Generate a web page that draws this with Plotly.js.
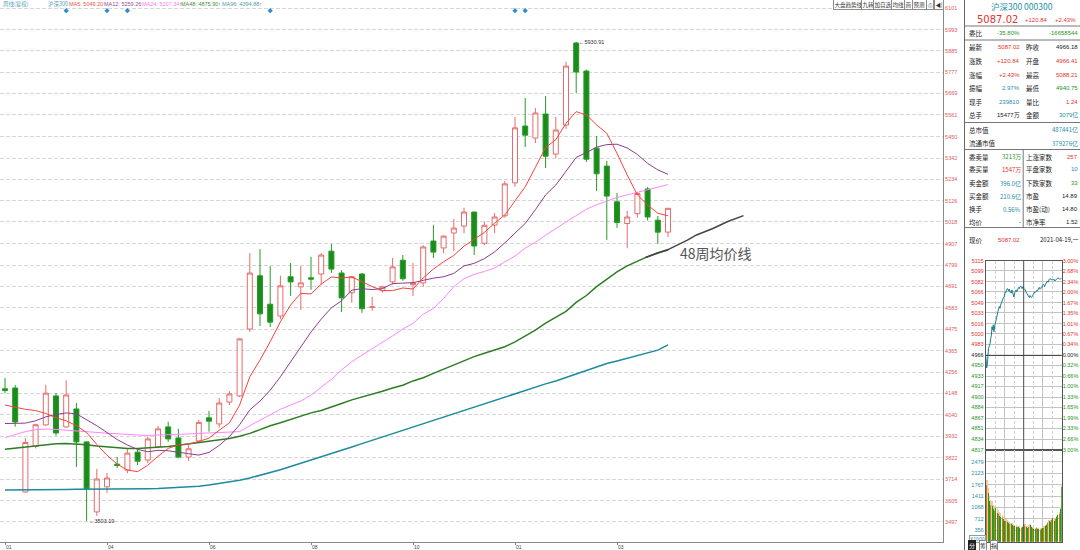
<!DOCTYPE html>
<html><head><meta charset="utf-8">
<script src="https://cdn.plot.ly/plotly-3.0.1.min.js"></script>
<style>html,body{margin:0;padding:0;background:#fff;}#chart{width:1080px;height:550px;}</style>
</head><body><div id="chart"></div>
<script>
// ---------------- weekly K-line data (沪深300, 周线) ----------------
const weeks = ['2020-01-17','2020-01-23','2020-02-07','2020-02-14','2020-02-21','2020-02-28','2020-03-06','2020-03-13','2020-03-20','2020-03-27',
'2020-04-03','2020-04-10','2020-04-17','2020-04-24','2020-04-30','2020-05-08','2020-05-15','2020-05-22','2020-05-29','2020-06-05',
'2020-06-12','2020-06-19','2020-06-24','2020-07-03','2020-07-10','2020-07-17','2020-07-24','2020-07-31','2020-08-07','2020-08-14',
'2020-08-21','2020-08-28','2020-09-04','2020-09-11','2020-09-18','2020-09-25','2020-09-30','2020-10-09','2020-10-16','2020-10-23',
'2020-10-30','2020-11-06','2020-11-13','2020-11-20','2020-11-27','2020-12-04','2020-12-11','2020-12-18','2020-12-25','2020-12-31',
'2021-01-08','2021-01-15','2021-01-22','2021-01-29','2021-02-05','2021-02-10','2021-02-19','2021-02-26','2021-03-05','2021-03-12',
'2021-03-19','2021-03-26','2021-04-02','2021-04-09','2021-04-16','2021-04-19'];
const openP  = [4172,4176,3649,3880,3989,4136,3979,4070,3903,3548, 3675,3790,3760,3851,3811,3878,3979,3923,3826,3908,
4025,3994,4105,4136,4475,4745,4601,4541,4740,4689, 4735,4754,4870,4759,4659,4754,4585,4670,4714,4824,
4700,4709,4921,4886,4962,4997,5068,4910,5002,5049, 5216,5504,5443,5565,5362,5509,5925,5783,5392,5301,
5120,5010,5060,5185,5027,4966.41];
const highP  = [4227,4192,3923,3995,4192,4151,4215,4100,3905,3766, 3745,3826,3866,3866,3928,3984,4005,3969,3887,4015,
4060,4125,4160,4430,4860,4880,4794,4745,4810,4794, 4841,4860,4906,4774,4745,4759,4638,4694,4835,4850,
4810,4900,5003,4950,5033,5090,5070,5020,5063,5225, 5550,5646,5595,5656,5550,5830,5930.91,5790,5453,5327,
5165,5074,5170,5195,5048,5088.21];
const lowP   = [4150,3980,3645,3870,3985,3935,3974,3776,3503.19,3528, 3645,3771,3744,3785,3795,3870,3903,3820,3806,3900,
3955,3975,4090,4130,4460,4490,4485,4525,4643,4572, 4674,4700,4760,4562,4608,4557,4567,4660,4700,4720,
4643,4690,4835,4860,4870,4960,4850,4900,4962,5040, 5196,5398,5418,5291,5342,5490,5672,5322,5175,4927,
4988,4885,5040,5025,4907,4940.75];
const closeP = [4163,4004,3900,3990,4150,3948,4141,3903,3664,3715, 3720,3783,3846,3805,3918,3969,3918,3826,3868,4002,
4008,4100,4146,4425,4759,4552,4510,4694,4714,4709, 4728,4850,4779,4633,4740,4578,4587,4689,4790,4730,
4709,4891,4865,4946,4987,5068,4896,5001,5043,5211, 5495,5458,5570,5351,5484,5808,5778,5336,5262,5149,
5015,5043,5162,5043,4966.18,5087.02];

// moving averages
const ma5  = [4090,4078,4068,4062,4047,4025,4010,3985,3950,3890, 3835,3790,3760,3752,3785,3830,3870,3888,3892,3905,
3922,3962,3999,4090,4233,4318,4411,4512,4597,4656, 4653,4703,4739,4734,4739,4715,4690,4670,4670,4683,
4678,4734,4779,4816,4848,4895,4930,4965,5012,5053, 5125,5196,5295,5395,5435,5518,5577,5560,5510,5467,
5366,5256,5155,5104,5062,5049.20];
const ma12 = [3996,3997,3998,4010,4030,4042,4050,4045,4015,3985, 3950,3915,3887,3865,3853,3860,3858,3852,3843,3836,
3850,3885,3930,3990,4065,4110,4165,4233,4310,4385, 4460,4525,4583,4618,4672,4680,4675,4680,4705,4708,
4710,4722,4733,4740,4757,4795,4808,4832,4866,4912, 4960,5010,5080,5155,5205,5275,5345,5370,5397,5410,
5412,5393,5360,5315,5282,5259.26];
const ma24 = [3925,3940,3955,3965,3968,3966,3963,3958,3954,3951, 3947,3943,3940,3938,3936,3937,3938,3940,3943,3946,
3949,3952,3953,3955,3985,4014,4040,4068,4090,4110, 4140,4180,4220,4268,4310,4343,4375,4405,4440,4475,
4504,4550,4580,4630,4690,4730,4752,4767,4785,4815, 4845,4885,4915,4950,4985,5018,5050,5082,5105,5125,
5142,5155,5168,5182,5196,5207.34];
const ma48 = [3866,3872,3878,3884,3888,3893,3895,3893,3888,3882, 3877,3872,3870,3870,3873,3876,3880,3886,3893,3898,
3905,3912,3920,3932,3946,3965,3985,4000,4018,4033, 4050,4062,4078,4098,4116,4130,4145,4160,4176,4190,
4212,4228,4250,4272,4290,4315,4335,4352,4370,4385, 4410,4440,4470,4505,4535,4565,4610,4645,4690,4728,
4765,4795,4820,4842,4862,4875.90];
const ma96 = [3659,3659,3660,3660,3661,3662,3662,3663,3663,3664, 3664,3664,3665,3665,3666,3667,3669,3671,3674,3678,
3684,3691,3699,3708,3720,3733,3747,3762,3778,3794, 3810,3826,3843,3860,3877,3894,3911,3928,3946,3963,
3979,3996,4012,4028,4044,4061,4078,4095,4112,4130, 4146,4163,4180,4197,4212,4230,4248,4266,4283,4300,
4313,4326,4340,4354,4368,4394.88];

// hand-drawn extension of the 48-week line
const trendX = [62.8,64,65,66.9,67.8,69.4,70.8,72.4];
const trendY = [4838,4862,4878,4926,4952,4985,5019,5050];

// x tick labels (every 10 weeks)
const tickIdx = [0,10,20,30,40,50,60];
const tickTxt = ['01','04','06','08','10','01','03'];
// right price axis labels
const priceTicks = [6101,5993,5885,5777,5669,5561,5450,5342,5234,5126,5018,4907,4799,4691,4583,4475,4365,4256,4148,4040,3932,3822,3714,3605,3497];
// info-mine event markers (week indices)
const eventIdx = [6,10,12,26,50,51];

// ---------------- intraday (2021-04-19) ----------------
const intraMin = [0,2,3,5,7,9,12,14,16,18,20,22,24,26,28,31,33,35,37,39,41,43,45,47,49,52,54,56,58,60,
62,64,66,68,71,73,75,77,79,81,83,85,87,89,92,94,96,98,100,102,104,106,108,111,113,115,117,119,121,123,
125,127,129,132,134,136,138,140,142,144,146,148,151,153,155,157,159,161,163,165,167,169,172,174,176,178,180,182,184,186,
188,191,193,195,197,199,201,203,205,207,209,212,214,216,218,220,222,224,226,228,231,233,235,237,239,240];
const intraPx = [4966.5,4956,4946,4951,4966,4977,4982,4985,4993,4998,5011,5006,5014,5003,5011,5019,5024,5029,5032,5039,5040,5043,5040,5045,5048,5053,5056,5057,5058,5062,
5066,5065,5069,5071,5070,5067,5070,5065,5066,5064,5069,5066,5062,5058,5065,5067,5069,5066,5070,5071,5073,5071,5074,5075,5073,5071,5074,5074,5071,5070,
5069,5066,5064,5062,5059,5058,5057,5060,5058,5057,5058,5060,5062,5063,5066,5065,5067,5068,5067,5069,5071,5073,5070,5071,5074,5073,5076,5078,5077,5074,
5077,5079,5081,5083,5081,5085,5086,5087,5086,5085,5086,5084,5085,5086,5083,5084,5085,5086,5087,5088,5087,5086,5087,5086,5087,5087.02];
const volMin = [0,4,8,12,16,20,24,28,32,36,40,44,48,52,56,60,64,68,72,76,80,84,88,92,96,100,104,108,112,116,
120,124,128,132,136,140,144,148,152,156,160,164,168,172,176,180,184,188,192,196,200,204,208,212,216,220,224,228,232,236,240];
const volK = [2300,1750,1500,1250,1150,1100,1000,950,1050,900,850,800,760,720,700,650,640,600,580,560,540,520,500,480,470,460,450,440,430,460,
540,500,460,440,470,520,450,420,400,390,410,380,400,370,390,410,440,480,520,580,640,620,670,720,640,700,760,820,870,1020,1700];
const volTan = [2400,1900,1650,1400,1300,1250,1150,1100,1150,1050,980,930,880,820,780,730,700,660,640,620,590,570,550,530,520,500,490,480,470,500,
580,550,500,480,510,560,490,460,440,430,450,420,440,420,430,450,480,520,560,620,680,670,720,770,700,750,810,870,920,1070,1800];
const intraTicks = [5115,5099,5082,5066,5049,5033,5016,5000,4983,4966,4950,4933,4917,4900,4884,4867,4851,4834,4817];
const intraPct = ['3.00%','2.68%','2.34%','2.00%','1.67%','1.35%','1.01%','0.67%','0.34%','0.00%','0.32%','0.66%','1.00%','1.33%','1.65%','1.99%','2.33%','2.66%','3.00%'];
const volTicks = [356,712,1068,1411,1767,2123,2479];

// ---------------- quote panel text ----------------
const RED='#e2332e', GRN='#1f951f', TEAL='#1e8fa3', BLK='#222';
const quoteRows = [
  ['最新','5087.02',RED,'昨收','4966.18',BLK],
  ['涨跌','+120.84',RED,'开盘','4966.41',RED],
  ['涨幅','+2.43%',RED,'最高','5088.21',RED],
  ['振幅','2.97%',TEAL,'最低','4940.75',GRN],
  ['现手','239810',TEAL,'量比','1.24',RED],
  ['总手','15477万',BLK,'金额','3079亿',TEAL]
];
const capRows = [['总市值','487441亿'],['流通市值','379276亿']];
const bookRows = [
  ['委卖量','3213万',GRN,'上涨家数','257',RED],
  ['委买量','1547万',RED,'平盘家数','10',TEAL],
  ['卖金额','396.0亿',TEAL,'下跌家数','33',GRN],
  ['买金额','210.6亿',TEAL,'市盈','14.89',BLK],
  ['换手','0.56%',TEAL,'市盈(动)','14.80',BLK],
  ['均价','-',BLK,'市净率','1.52',BLK]
];

// ---------------- build ----------------
const W=1080, H=550;
const px = x => x/W, py = y => 1 - y/H;
const FONT = '"Liberation Sans","Noto Sans CJK SC",sans-serif';
const CJK = '"Noto Sans CJK SC","Liberation Sans",sans-serif';
const idx = weeks.map((d,i)=>i);

function note(text,x,y,o){ o=o||{};
  const a = {text:text,x:px(x),y:py(y),xref:'paper',yref:'paper',showarrow:false,
    xanchor:o.xa||'left',yanchor:'middle',font:{size:o.size||6.5,color:o.color||BLK,family:o.family||CJK}};
  return Object.assign(a,o.extra||{});
}

const traces = [
  {type:'candlestick',x:idx,open:openP,high:highP,low:lowP,close:closeP,xaxis:'x',yaxis:'y',
   increasing:{line:{color:'#e76b6b',width:1},fillcolor:'#ffffff'},
   decreasing:{line:{color:'#259a25',width:1},fillcolor:'#1b8c1b'},
   whiskerwidth:0,hoverinfo:'skip'},
  {type:'scatter',mode:'lines',x:idx,y:ma96,line:{color:'#1c8b9c',width:1.5},hoverinfo:'skip'},
  {type:'scatter',mode:'lines',x:idx,y:ma48,line:{color:'#2c7d24',width:1.5},hoverinfo:'skip'},
  {type:'scatter',mode:'lines',x:trendX,y:trendY,line:{color:'#444444',width:1.5},hoverinfo:'skip'},
  {type:'scatter',mode:'lines',x:idx,y:ma24,line:{color:'#ff86ff',width:1},hoverinfo:'skip'},
  {type:'scatter',mode:'lines',x:idx,y:ma12,line:{color:'#8e3b8e',width:1},hoverinfo:'skip'},
  {type:'scatter',mode:'lines',x:idx,y:ma5,line:{color:'#f6423c',width:1},hoverinfo:'skip'},
  {type:'scatter',mode:'markers',x:eventIdx,y:eventIdx.map(()=>0.9803),xaxis:'x',yaxis:'y5',
   marker:{symbol:'diamond',size:4,color:'#2a8bd6'},hoverinfo:'skip'},
  // intraday
  {type:'scatter',mode:'lines',x:intraMin,y:intraPx,xaxis:'x2',yaxis:'y2',line:{color:'#1a7d8d',width:1},hoverinfo:'skip'},
  {type:'scatter',mode:'lines',x:intraMin,y:intraPx,xaxis:'x2',yaxis:'y3',line:{color:'rgba(0,0,0,0)',width:0},hoverinfo:'skip'},
  {type:'bar',x:volMin,y:volTan,xaxis:'x3',yaxis:'y4',width:3.6,
   marker:{color:'#ecc9a0',line:{width:0}},hoverinfo:'skip'},
  {type:'bar',x:volMin,y:volK,xaxis:'x3',yaxis:'y4',width:3.0,
   marker:{color:volK.map((v,i)=> i%3===1 ? '#cf7a14' : '#2c9a22'),line:{width:0}},hoverinfo:'skip'}
];

const tickColor = i => i<9 ? RED : (i===9 ? BLK : GRN);
const layout = {
  width:W,height:H,margin:{l:0,r:0,t:0,b:0},paper_bgcolor:'#fff',plot_bgcolor:'#fff',
  showlegend:false,hovermode:false,font:{family:FONT,size:6,color:BLK},barmode:'overlay',
  xaxis:{domain:[0,943/W],range:[-0.49,91.96],tickmode:'array',tickvals:tickIdx,ticktext:tickTxt,
    ticks:'outside',ticklen:2,tickcolor:'#888',ticklabelposition:'outside right',ticklabelstandoff:0,
    tickfont:{size:5,color:'#444'},showline:true,linecolor:'#8a8a8a',linewidth:1,
    showgrid:false,zeroline:false,rangeslider:{visible:false},fixedrange:true,automargin:false},
  yaxis:{domain:[1-542/H,1],range:[3395.5,6143],side:'right',anchor:'x',tickmode:'array',tickvals:priceTicks,
    ticktext:priceTicks.map(String),tickfont:{size:5.5,color:'#e05a5a'},ticks:'',
    showgrid:true,gridcolor:'#d6d6d6',griddash:'4px,2px',gridwidth:1,showline:true,linecolor:'#8a8a8a',
    zeroline:false,fixedrange:true,automargin:false},
  yaxis5:{overlaying:'y',anchor:'x',range:[0,1],visible:false,fixedrange:true},
  xaxis2:{domain:[985.7/W,1061.7/W],range:[0,240],anchor:'y2',showticklabels:false,ticks:'',
    tickmode:'linear',tick0:0,dtick:60,showgrid:true,gridcolor:'#c4c4c4',gridwidth:1,
    minor:{tick0:0,dtick:30,showgrid:true,gridcolor:'#cfcfcf',griddash:'3px,2px'},
    showline:true,mirror:true,linecolor:'#555',zeroline:false,fixedrange:true,automargin:false},
  yaxis2:{domain:[1-450/H,1-260.7/H],range:[4817,5115],anchor:'x2',side:'left',tickmode:'array',
    tickvals:intraTicks,ticktext:intraTicks.map((v,i)=>'<span style="color:'+tickColor(i)+'">'+v+'</span>'),
    tickfont:{size:5.5},ticks:'',showgrid:true,gridcolor:'#c4c4c4',showline:true,mirror:true,linecolor:'#555',
    zeroline:false,fixedrange:true,automargin:false},
  yaxis3:{overlaying:'y2',anchor:'x2',side:'right',range:[4817,5115],tickmode:'array',tickvals:intraTicks,
    ticktext:intraPct.map((t,i)=>'<span style="color:'+tickColor(i)+'">'+t+'</span>'),
    tickfont:{size:5.5},ticks:'',showgrid:false,zeroline:false,fixedrange:true,automargin:false},
  xaxis3:{domain:[985.7/W,1061.7/W],range:[0,240],anchor:'y4',showticklabels:false,ticks:'',
    tickmode:'linear',tick0:0,dtick:60,showgrid:true,gridcolor:'#c4c4c4',
    minor:{tick0:0,dtick:30,showgrid:true,gridcolor:'#cfcfcf',griddash:'3px,2px'},
    showline:true,mirror:true,linecolor:'#555',zeroline:false,fixedrange:true,automargin:false},
  yaxis4:{domain:[1-541.7/H,1-450/H],range:[0,2842],anchor:'x3',side:'left',tickmode:'array',tickvals:volTicks,
    ticktext:volTicks.map(String),tickfont:{size:5.5,color:TEAL},ticks:'',showgrid:true,gridcolor:'#c4c4c4',
    showline:true,mirror:true,linecolor:'#555',zeroline:false,fixedrange:true,automargin:false},
  bargap:0,
  shapes:[],
  annotations:[]
};

const S = layout.shapes, A = layout.annotations;
const hline = (y,x0,x1,c) => S.push({type:'line',xref:'paper',yref:'paper',x0:px(x0),x1:px(x1),y0:py(y),y1:py(y),line:{color:c||'#777',width:1}});
const vline = (x,y0,y1,c) => S.push({type:'line',xref:'paper',yref:'paper',x0:px(x),x1:px(x),y0:py(y0),y1:py(y1),line:{color:c||'#777',width:1}});
vline(964.5,0,550,'#666');
[26,40,122.5,149.5,227.5].forEach(y=>hline(y,964.5,1080,'#777'));
vline(1023.2,149.5,227.5,'#777');
// intraday emphasis lines
S.push({type:'line',xref:'x2',yref:'paper',x0:120,x1:120,y0:py(450),y1:py(260.7),line:{color:'#555',width:1}});
S.push({type:'line',xref:'x3',yref:'paper',x0:120,x1:120,y0:py(541.7),y1:py(450),line:{color:'#555',width:1}});
S.push({type:'line',xref:'paper',yref:'y2',x0:px(985.7),x1:px(1061.7),y0:4966,y1:4966,line:{color:'#333',width:1}});

// main chart header
A.push(note('周线(复权)',1,4,{size:5.5,color:'#5a9fb8'}));
A.push(note('沪深300',46,4,{size:5.5,color:'#5a9fb8'}));
A.push(note('MA5: 5049.20',67,4,{size:5.5,color:'#f0504a',family:FONT}));
A.push(note('MA12: 5259.26',102,4,{size:5.5,color:'#9a4a9a',family:FONT}));
A.push(note('MA24: 5207.34<span style="color:#e03030">↑</span>',140,4,{size:5.5,color:'#f27ef2',family:FONT}));
A.push(note('MA48: 4875.90<span style="color:#e03030">↑</span>',179,4,{size:5.5,color:'#3f8f3a',family:FONT}));
A.push(note('MA96: 4394.88<span style="color:#e03030">↑</span>',220,4,{size:5.5,color:'#4f9aa8',family:FONT}));
// toolbar buttons
[['大盘趋势线',848.5],['九转',868],['加自选',883],['均线',898],['画',908.7],['预测',919],['⎙',930],['◀|',939]].forEach(b=>{
  A.push(note(b[0],b[1],4,{xa:'center',size:5.5,color:'#333',extra:{bordercolor:'#8c8c8c',borderwidth:1,borderpad:0.5,bgcolor:'#fff'}}));
});
// high / low marks
A.push({text:'←5930.91',x:56,y:5930.91,xref:'x',yref:'y',showarrow:false,xanchor:'left',yanchor:'middle',xshift:1,font:{size:5.5,color:'#333',family:FONT}});
A.push({text:'←3503.19',x:8,y:3503.19,xref:'x',yref:'y',showarrow:false,xanchor:'left',yanchor:'middle',xshift:0,font:{size:5.5,color:'#333',family:FONT}});
A.push({text:'48周均价线',x:65.98,y:4858,xref:'x',yref:'y',showarrow:false,xanchor:'left',yanchor:'middle',font:{size:14,color:'#555',family:CJK}});

// quote panel
A.push(note('沪深300 000300',1022,5.5,{xa:'center',size:8.5,color:TEAL}));
A.push(note('5087.02',975,19.5,{size:10,color:RED,family:'"DejaVu Sans",sans-serif'}));
A.push(note('+120.84',1050,20,{xa:'right',size:6,color:RED,family:FONT}));
A.push(note('+2.43%',1078,20,{xa:'right',size:6,color:RED,family:FONT}));
A.push(note('委比',967,33));
A.push(note('-35.80%',1022,33,{xa:'right',size:6,color:GRN,family:FONT}));
A.push(note('-16658544',1080,33,{xa:'right',size:6,color:GRN,family:FONT}));
const qY=[47,61,74.5,88,101.5,115];
quoteRows.forEach((r,i)=>{
  A.push(note(r[0],967,qY[i]));
  A.push(note(r[1],1022,qY[i],{xa:'right',size:6,color:r[2],family:FONT}));
  A.push(note(r[3],1023.5,qY[i]));
  A.push(note(r[4],1080,qY[i],{xa:'right',size:6,color:r[5],family:FONT}));
});
const cY=[130,143];
capRows.forEach((r,i)=>{
  A.push(note(r[0],967,cY[i]));
  A.push(note(r[1],1080,cY[i],{xa:'right',size:6,color:TEAL}));
});
const bY=[156.5,169.5,183,196,209.5,222];
bookRows.forEach((r,i)=>{
  A.push(note(r[0],967,bY[i]));
  A.push(note(r[1],1022.5,bY[i],{xa:'right',size:6,color:r[2]}));
  A.push(note(r[3],1023.8,bY[i]));
  A.push(note(r[4],1080,bY[i],{xa:'right',size:6,color:r[5],family:FONT}));
});
A.push(note('现价',967,240));
A.push(note('5087.02',1021.5,240,{xa:'right',size:6,color:RED,family:FONT}));
A.push(note('2021-04-19,一',1080,240,{xa:'right',size:6,color:BLK}));
A.push(note('X1000',977.5,539,{xa:'center',size:5,color:TEAL,family:FONT,extra:{bordercolor:'#999',borderwidth:1,borderpad:0,bgcolor:'#fff'}}));
A.push(note('分',972,545,{xa:'center',size:6,color:'#fff',extra:{bgcolor:'#222',bordercolor:'#222',borderwidth:1,borderpad:0}}));
A.push(note('筹',983,545,{xa:'center',size:6,color:'#222',extra:{bgcolor:'#fff',bordercolor:'#888',borderwidth:1,borderpad:0}}));
A.push(note('指',994,545,{xa:'center',size:6,color:'#222',extra:{bgcolor:'#fff',bordercolor:'#888',borderwidth:1,borderpad:0}}));

Plotly.newPlot('chart',traces,layout,{staticPlot:true,displayModeBar:false});
</script></body></html>
